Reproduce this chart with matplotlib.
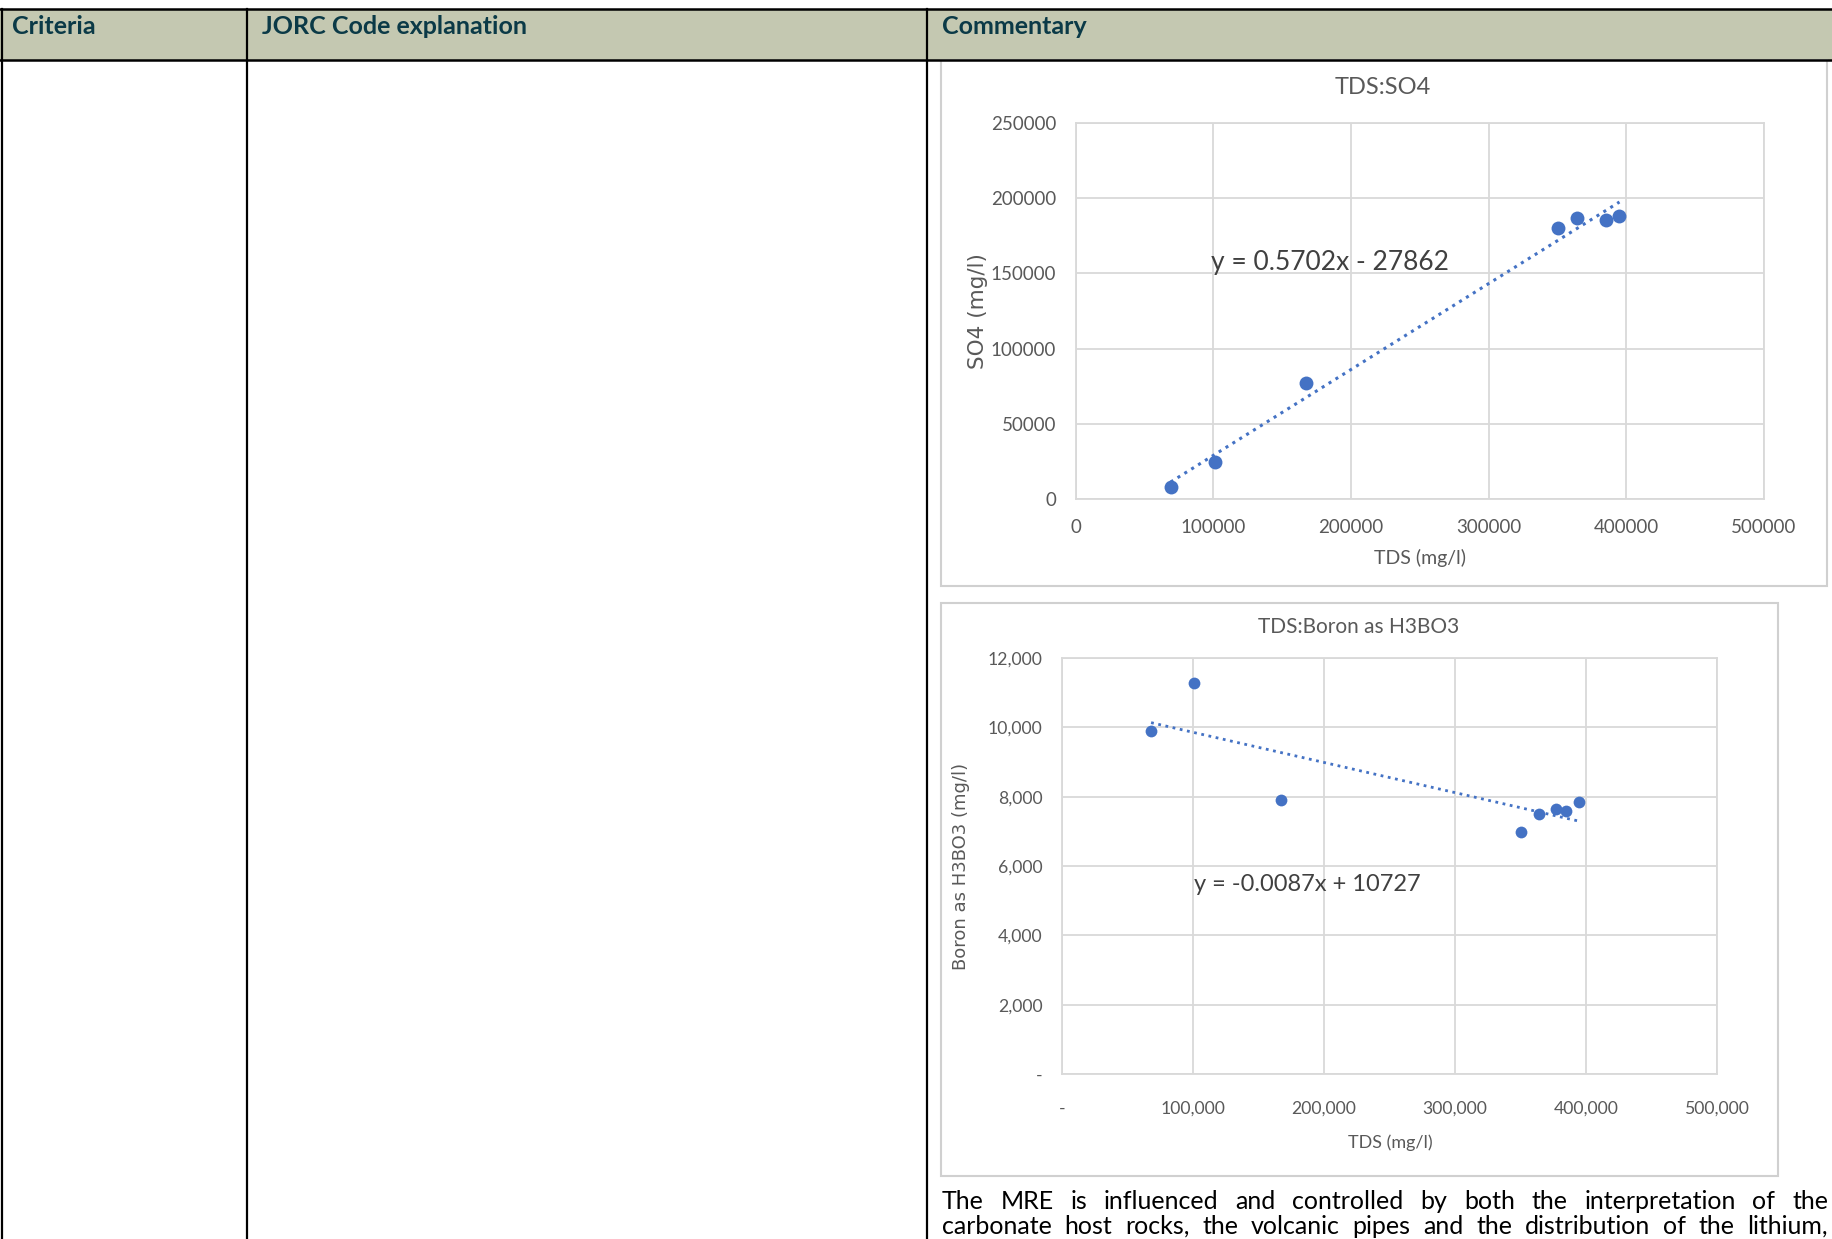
import matplotlib
matplotlib.use('Agg')
from matplotlib import pyplot as plt
from matplotlib.patches import Rectangle
from matplotlib.lines import Line2D
from matplotlib.ticker import FuncFormatter
import numpy as np

# chart 1: TDS vs SO4
tds_so4 = [69000, 101000, 167000, 350000, 364000, 385000, 395000]
so4 = [8000, 24500, 77000, 180000, 186500, 185500, 188000]
so4_fit = (0.5702, -27862)

# chart 2: TDS vs boron as H3BO3
tds_b = [68000, 101000, 167000, 350000, 364500, 377000, 384500, 395000]
h3bo3 = [9900, 11270, 7890, 6970, 7490, 7650, 7600, 7840]
b_fit = (-0.0087, 10727)

headers = ['Criteria', 'JORC Code explanation', 'Commentary']
body_lines = [
    'The MRE is influenced and controlled by both the interpretation of the',
    'carbonate host rocks, the volcanic pipes and the distribution of the lithium,',
]

W, H = 1832, 1239
BLUE = '#4472C4'
GREY = '#595959'
GRID = '#D9D9D9'
FONT = 'Lato'


def fx(x):
    return x / W


def fy(y):
    return 1 - y / H


def box(x0, y0, x1, y1):
    return [fx(x0), fy(y1), (x1 - x0) / W, (y1 - y0) / H]


fig = plt.figure(figsize=(W / 100, H / 100), dpi=100)
fig.patch.set_facecolor('white')

# table header and rules
fig.add_artist(Rectangle((0, fy(60)), 1, 51 / H, transform=fig.transFigure,
                         facecolor='#C4C8B1', edgecolor='none', zorder=-5))
for y in (9, 60):
    fig.add_artist(Line2D([0, 1], [fy(y), fy(y)], color='black', lw=1.8, zorder=5))
for x in (2, 246.7, 926.7):
    fig.add_artist(Line2D([fx(x), fx(x)], [fy(9), 0], color='black', lw=1.6, zorder=5))
for x, t in zip((12, 261.7, 941.7), headers):
    fig.text(fx(x), fy(34), t, fontsize=18, weight='bold', color='#0B3A47',
             family=FONT, va='baseline', ha='left')

# chart frames (behind the axes)
for b in ((941, 60, 1827, 586), (941, 603, 1778, 1176)):
    fig.add_artist(Rectangle((fx(b[0]), fy(b[3])), (b[2] - b[0]) / W, (b[3] - b[1]) / H,
                             transform=fig.transFigure, facecolor='white',
                             edgecolor='#D0D0D0', lw=1.5, zorder=-4))


def style(ax, size, xpad):
    ax.set_facecolor('none')
    ax.grid(True, color=GRID, lw=1.3)
    ax.set_axisbelow(True)
    for s in ax.spines.values():
        s.set_color(GRID)
        s.set_linewidth(1.3)
    ax.tick_params(length=0, labelsize=size, labelcolor=GREY, pad=14)
    ax.tick_params(axis='x', pad=xpad)
    for lab in ax.get_xticklabels() + ax.get_yticklabels():
        lab.set_family(FONT)


# chart 1
ax1 = fig.add_axes(box(1075.7, 122.7, 1764, 499.3))
ax1.set_xlim(0, 500000)
ax1.set_ylim(0, 250000)
ax1.set_xticks(np.arange(0, 500001, 100000))
ax1.set_yticks(np.arange(0, 250001, 50000))
style(ax1, 13.5, 14)
ax1.scatter(tds_so4, so4, s=100, color=BLUE, zorder=3, linewidths=0)
xs = np.array([min(tds_so4), max(tds_so4)])
ax1.plot(xs, so4_fit[0] * xs + so4_fit[1], ls=':', lw=2.2, color=BLUE, zorder=2)
ax1.text(98000, 157000, 'y = 0.5702x - 27862', fontsize=19, family=FONT,
         color='#404040', va='center')
fig.text(fx(1383), fy(88), 'TDS:SO4', fontsize=17, family=FONT, color=GREY,
         ha='center', va='center')
fig.text(fx(1420), fy(558), 'TDS (mg/l)', fontsize=14, family=FONT, color=GREY,
         ha='center', va='center')
fig.text(fx(978), fy(311), 'SO4 (mg/l)', fontsize=15.5, family='DejaVu Sans',
         color=GREY, rotation=90, ha='center', va='center')

# chart 2
ax2 = fig.add_axes(box(1062, 658, 1717, 1074))
ax2.set_xlim(0, 500000)
ax2.set_ylim(0, 12000)
ax2.set_xticks(np.arange(0, 500001, 100000))
ax2.set_yticks(np.arange(0, 12001, 2000))
fmt = FuncFormatter(lambda v, p: '-' if v == 0 else f'{int(v):,}')
ax2.xaxis.set_major_formatter(fmt)
ax2.yaxis.set_major_formatter(fmt)
style(ax2, 12.7, 19)
ax2.scatter(tds_b, h3bo3, s=72, color=BLUE, zorder=3, linewidths=0)
xs = np.array([min(tds_b), max(tds_b)])
ax2.plot(xs, b_fit[0] * xs + b_fit[1], ls=':', lw=2.0, color=BLUE, zorder=2)
ax2.text(100500, 5480, 'y = -0.0087x + 10727', fontsize=17, family=FONT,
         color='#404040', va='center')
fig.text(fx(1359), fy(627), 'TDS:Boron as H3BO3', fontsize=15, family=FONT,
         color=GREY, ha='center', va='center')
fig.text(fx(1390), fy(1143), 'TDS (mg/l)', fontsize=13, family=FONT, color=GREY,
         ha='center', va='center')
fig.text(fx(961), fy(866), 'Boron as H3BO3 (mg/l)', fontsize=13,
         family='DejaVu Sans', color=GREY, rotation=90, ha='center', va='center')

# justified body text
renderer = fig.canvas.get_renderer()
x0, x1 = 941.7, 1828
size = 18
while True:
    probe = fig.text(0, 0, body_lines[1], fontsize=size, family=FONT)
    natural = probe.get_window_extent(renderer).width
    probe.remove()
    if natural <= (x1 - x0) - 8 or size < 12:
        break
    size -= 0.25
for i, line in enumerate(body_lines):
    words = line.split()
    texts = [fig.text(0, fy(1209 + 25 * i), w, fontsize=size, family=FONT,
                      color='black', va='baseline', ha='left') for w in words]
    widths = [t.get_window_extent(renderer).width for t in texts]
    gap = (x1 - x0 - sum(widths)) / (len(words) - 1)
    x = x0
    for t, w in zip(texts, widths):
        t.set_x(fx(x))
        x += w + gap

fig.savefig('out.png', dpi=100)
